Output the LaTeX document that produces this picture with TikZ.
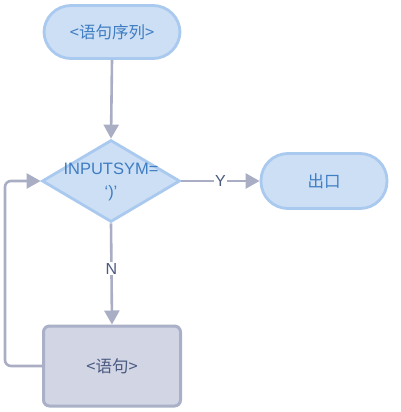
\documentclass[tikz,border=0pt]{standalone}
\usepackage{fontspec}
\setmainfont{Liberation Sans}
\newfontfamily\cjk{Noto Sans CJK SC}
\usetikzlibrary{shapes.geometric,arrows.meta}
\definecolor{termfill}{HTML}{CCDFF5}
\definecolor{termdraw}{HTML}{A9C9EE}
\definecolor{termtext}{HTML}{3F7DC2}
\definecolor{boxfill}{HTML}{D1D5E4}
\definecolor{boxdraw}{HTML}{A9B0C7}
\definecolor{boxtext}{HTML}{4A5A80}
\definecolor{arrowc}{HTML}{A9AEC4}
\tikzset{
  term/.style={draw=termdraw, fill=termfill, line width=2.8pt, rounded corners=27pt,
    minimum width=136pt, minimum height=53pt, text=termtext, font=\cjk\fontsize{16.5}{19}\selectfont},
  decide/.style={diamond, draw=termdraw, fill=termfill, line width=2.8pt, aspect=1.68,
    minimum width=138pt, minimum height=82pt, inner sep=0pt},
  dectext/.style={text=termtext, align=center, font=\fontsize{16.5}{19}\selectfont},
  procbox/.style={draw=boxdraw, fill=boxfill, line width=3pt, rounded corners=6pt,
    minimum width=137pt, minimum height=80pt, text=boxtext, font=\cjk\fontsize{16.5}{19}\selectfont},
  conn/.style={draw=arrowc, line width=2.6pt, -{Triangle[length=14pt,width=15pt]}},
  lbl/.style={fill=white, text=boxtext, inner sep=1pt, font=\fontsize{16}{18}\selectfont},
}
\begin{document}
\begin{tikzpicture}[x=1pt,y=-1pt]
\useasboundingbox (0,0) rectangle (400,412);
\node[term] (seq) at (112,32) {<语句序列>};
\node[decide, label={[dectext, yshift=-1pt]center:INPUTSYM=\\[4pt]‘)’}] (dec) at (111,181) {};
\node[term, minimum width=126pt, minimum height=55pt] (exit) at (324,181) {出口};
\node[procbox] (stmt) at (112,366) {<语句>};
\draw[conn] (seq.south) -- (dec.north);
\draw[conn] (dec.east) -- node[lbl] (y) {Y} (exit.west);
\draw[conn] (dec.south) -- node[lbl, pos=0.45] (n) {N} (stmt.north);
\coordinate (lb) at (5,366);
\coordinate (lt) at (5,181);
\draw[conn, rounded corners=6pt] (stmt.west) -- (lb) -- (lt) -- (dec.west);
\end{tikzpicture}
\end{document}
